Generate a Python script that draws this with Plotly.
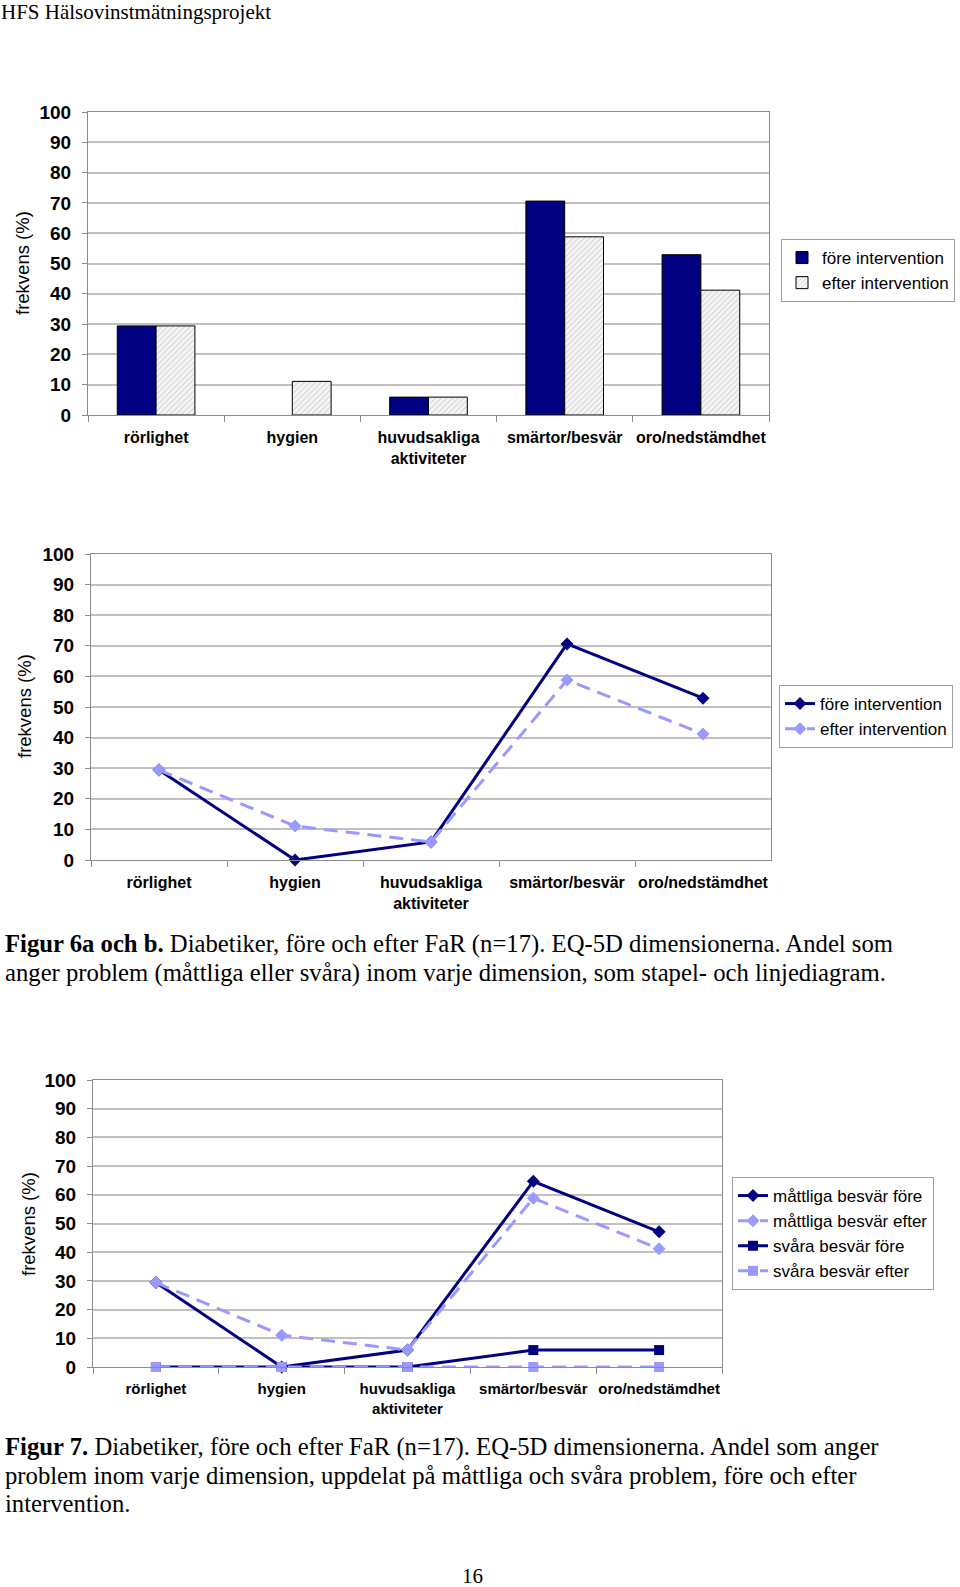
import plotly.graph_objects as go

W, H = 960, 1587
OFF = 0  # body margin removed via post_script

categories = ["rörlighet", "hygien", "huvudsakliga<br>aktiviteter", "smärtor/besvär", "oro/nedstämdhet"]

# Figur 6a/6b
fore_intervention = [29.4, 0, 5.9, 70.6, 52.9]
efter_intervention = [29.4, 11.1, 5.9, 58.8, 41.2]

# Figur 7
mattliga_fore = [29.4, 0, 5.9, 64.7, 47.1]
mattliga_efter = [29.4, 11.1, 5.9, 58.8, 41.2]
svara_fore = [0, 0, 0, 5.9, 5.9]
svara_efter = [0, 0, 0, 0, 0]

y_ticks = list(range(0, 101, 10))

NAVY = "#000080"
LIGHT = "#9999ff"
GRID = "#c0c0c0"
AXLINE = "#8c8c8c"
SANS = "Liberation Sans, Arial, sans-serif"
SERIF = "Liberation Serif, Times New Roman, serif"
DASH = "14px,8px"


def px(x):
    return (x - OFF) / W


def py(y):
    return 1 - (y - OFF) / H


def xd(a, b):
    return [px(a), px(b)]


def yd(top, bottom):
    return [py(bottom), py(top)]


def outline(vals):
    return [1 if v > 0 else 0 for v in vals]


fig = go.Figure()

# ---- Chart 1: bars ----
fig.add_trace(go.Bar(
    x=categories, y=fore_intervention, name="före intervention",
    marker=dict(color=NAVY, line=dict(color="black", width=outline(fore_intervention))),
    xaxis="x", yaxis="y", legend="legend"))
fig.add_trace(go.Bar(
    x=categories, y=efter_intervention, name="efter intervention",
    marker=dict(color="white", line=dict(color="black", width=outline(efter_intervention)),
                pattern=dict(shape="/", fgcolor="#a8a8a8", bgcolor="#f6f6f6", size=4, solidity=0.25)),
    xaxis="x", yaxis="y", legend="legend"))

# ---- Chart 2: lines ----
fig.add_trace(go.Scatter(
    x=categories, y=fore_intervention, name="före intervention", mode="lines+markers",
    line=dict(color=NAVY, width=3), marker=dict(symbol="diamond", size=10, color=NAVY),
    cliponaxis=False, xaxis="x2", yaxis="y2", legend="legend2"))
fig.add_trace(go.Scatter(
    x=categories, y=efter_intervention, name="efter intervention", mode="lines+markers",
    line=dict(color=LIGHT, width=3, dash=DASH), marker=dict(symbol="diamond", size=10, color=LIGHT),
    cliponaxis=False, xaxis="x2", yaxis="y2", legend="legend2"))

# ---- Chart 3: lines ----
fig.add_trace(go.Scatter(
    x=categories, y=mattliga_fore, name="måttliga besvär före", mode="lines+markers",
    line=dict(color=NAVY, width=3), marker=dict(symbol="diamond", size=10, color=NAVY),
    cliponaxis=False, xaxis="x3", yaxis="y3", legend="legend3"))
fig.add_trace(go.Scatter(
    x=categories, y=mattliga_efter, name="måttliga besvär efter", mode="lines+markers",
    line=dict(color=LIGHT, width=3, dash=DASH), marker=dict(symbol="diamond", size=10, color=LIGHT),
    cliponaxis=False, xaxis="x3", yaxis="y3", legend="legend3"))
fig.add_trace(go.Scatter(
    x=categories, y=svara_fore, name="svåra besvär före", mode="lines+markers",
    line=dict(color=NAVY, width=3), marker=dict(symbol="square", size=10, color=NAVY),
    cliponaxis=False, xaxis="x3", yaxis="y3", legend="legend3"))
fig.add_trace(go.Scatter(
    x=categories, y=svara_efter, name="svåra besvär efter", mode="lines+markers",
    line=dict(color=LIGHT, width=3, dash=DASH), marker=dict(symbol="square", size=10, color=LIGHT),
    cliponaxis=False, xaxis="x3", yaxis="y3", legend="legend3"))


def xaxis_cfg(dom, anchor, size):
    return dict(domain=dom, anchor=anchor, type="category", tickson="boundaries",
                range=[-0.5, len(categories) - 0.5], autorange=False,
                ticks="outside", ticklen=6, tickcolor=AXLINE, tickangle=0,
                showline=True, mirror=True, linecolor=AXLINE, linewidth=1,
                showgrid=False, automargin=False, ticklabelstandoff=8,
                tickfont=dict(family=SANS, size=size, color="black", weight="bold"),
                fixedrange=True)


def yaxis_cfg(dom, anchor):
    return dict(domain=dom, anchor=anchor, range=[0, 100], tickvals=y_ticks,
                ticks="outside", ticklen=5, tickcolor=AXLINE,
                showline=True, mirror=True, linecolor=AXLINE, linewidth=1,
                showgrid=True, gridcolor=GRID, gridwidth=1.5, zeroline=False,
                automargin=False,
                tickfont=dict(family=SANS, size=19, color="black", weight="bold"),
                ticklabelstandoff=7, fixedrange=True)


legend_common = dict(xanchor="left", yanchor="top", bgcolor="white",
                     bordercolor="#a0a0a0", borderwidth=1,
                     font=dict(family=SANS, size=17, color="black"), tracegroupgap=0)

fig.update_layout(
    width=W, height=H, margin=dict(l=0, r=0, t=0, b=0, pad=0, autoexpand=False),
    paper_bgcolor="white", plot_bgcolor="white",
    barmode="group", bargap=0.43, bargroupgap=0,
    xaxis=xaxis_cfg(xd(88, 769), "y", 16),
    yaxis=yaxis_cfg(yd(112, 415), "x"),
    xaxis2=xaxis_cfg(xd(91, 771), "y2", 16),
    yaxis2=yaxis_cfg(yd(554, 860), "x2"),
    xaxis3=xaxis_cfg(xd(93, 722), "y3", 15),
    yaxis3=yaxis_cfg(yd(1080, 1367), "x3"),
    legend=dict(x=px(781), y=py(239), itemwidth=30, **legend_common),
    legend2=dict(x=px(779), y=py(685), **legend_common),
    legend3=dict(x=px(732), y=py(1177), **legend_common),
    showlegend=True,
)

annotations = []


def txt(text, x, y, size, family=SERIF, xanchor="left", angle=0, color="black"):
    annotations.append(dict(text=text, x=px(x), y=py(y), xref="paper", yref="paper",
                            xanchor=xanchor, yanchor="middle", showarrow=False, textangle=angle,
                            borderpad=0, font=dict(family=family, size=size, color=color)))


txt("HFS Hälsovinstmätningsprojekt", 0, 12, 21)
for (x, y) in [(23, 263), (24, 706), (28, 1224)]:
    txt("frekvens (%)", x, y, 18.5, family=SANS, xanchor="center", angle=-90)

txt("<b>Figur 6a och b.</b> Diabetiker, före och efter FaR (n=17). EQ-5D dimensionerna. Andel som", 4, 944, 24.7)
txt("anger problem (måttliga eller svåra) inom varje dimension, som stapel- och linjediagram.", 4, 973, 24.7)

txt("<b>Figur 7.</b> Diabetiker, före och efter FaR (n=17). EQ-5D dimensionerna. Andel som anger", 4, 1447, 24.7)
txt("problem inom varje dimension, uppdelat på måttliga och svåra problem, före och efter", 4, 1475, 24.7)
txt("intervention.", 4, 1503, 24.7)

txt("16", 472, 1576, 21, xanchor="center")

fig.update_layout(annotations=annotations)

fig.write_html("out.html", config={"displayModeBar": False},
               post_script="document.body.style.margin='0';")
